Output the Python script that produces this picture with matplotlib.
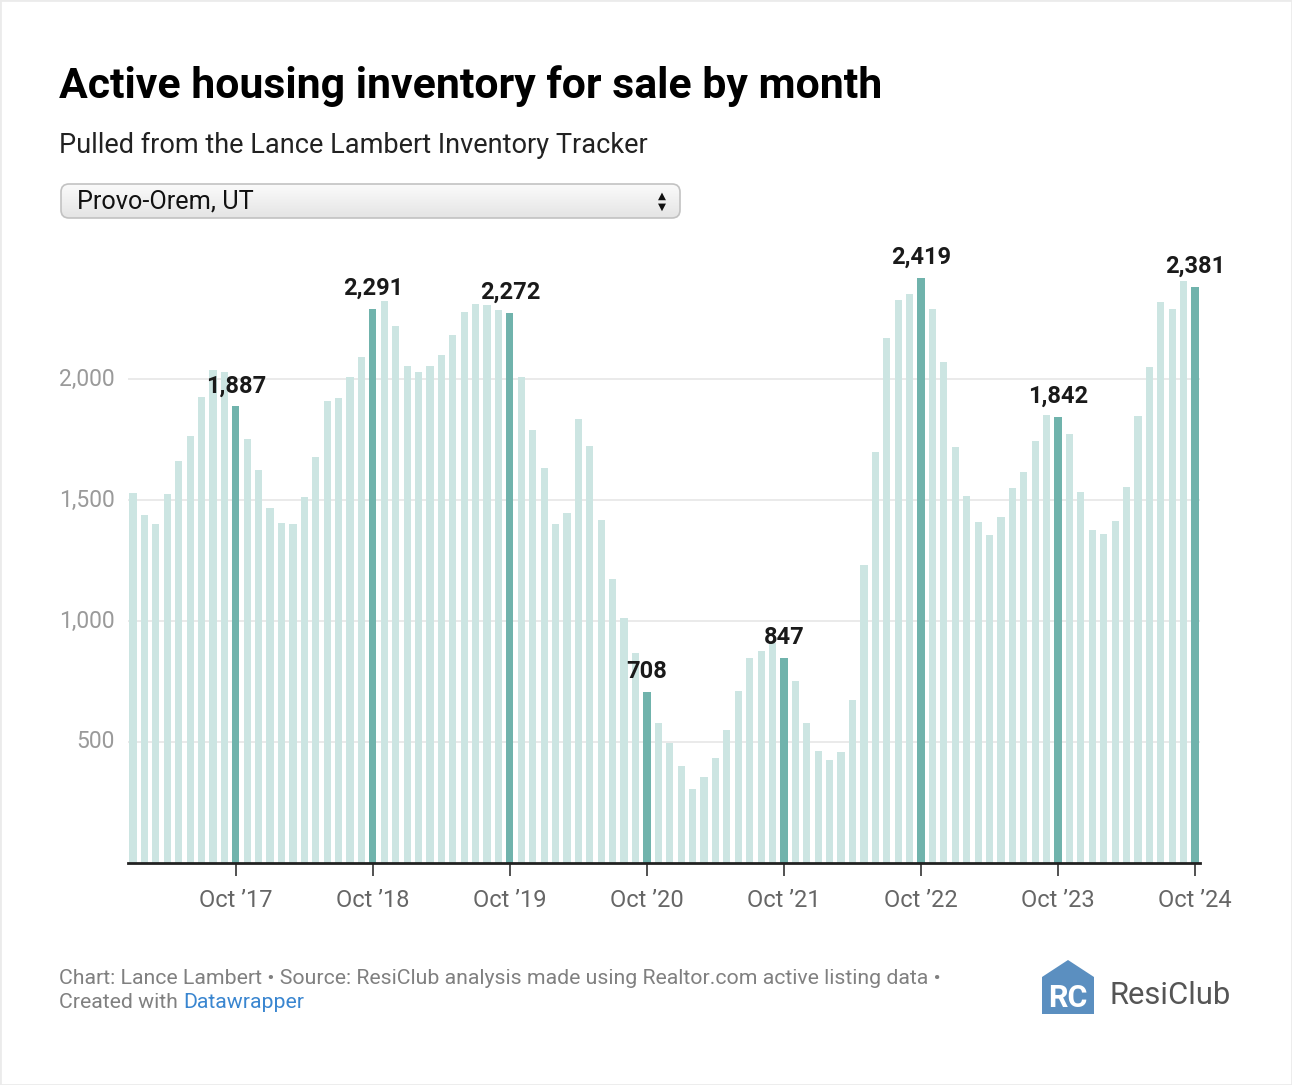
import matplotlib
matplotlib.use("Agg")
import matplotlib.pyplot as plt
from matplotlib.patches import FancyBboxPatch, Polygon, Rectangle
import numpy as np

plt.rcParams['font.family'] = ['Roboto', 'DejaVu Sans']

# ---- data (monthly active listings, Jan 2017 - Oct 2024) ----
start_year = 2017
inventory = [
    # 2017
    1528, 1438, 1402, 1523, 1660, 1766, 1924, 2037, 2028, 1887, 1752, 1624,
    # 2018
    1467, 1405, 1401, 1512, 1678, 1910, 1922, 2007, 2090, 2291, 2321, 2218,
    # 2019
    2055, 2028, 2052, 2100, 2181, 2278, 2311, 2306, 2285, 2272, 2010, 1791,
    # 2020
    1634, 1400, 1448, 1833, 1724, 1419, 1174, 1014, 868, 708, 578, 497,
    # 2021
    401, 306, 354, 433, 548, 709, 848, 876, 910, 847, 751, 577,
    # 2022
    464, 424, 459, 675, 1231, 1699, 2169, 2326, 2351, 2419, 2289, 2069,
    # 2023
    1720, 1517, 1408, 1355, 1430, 1551, 1614, 1745, 1850, 1842, 1774, 1533,
    # 2024
    1376, 1358, 1413, 1555, 1847, 2048, 2317, 2291, 2406, 2381,
]
tick_labels = ["Oct \u201917", "Oct \u201918", "Oct \u201919", "Oct \u201920",
               "Oct \u201921", "Oct \u201922", "Oct \u201923", "Oct \u201924"]
y_ticks = [500, 1000, 1500, 2000]
y_tick_labels = ["500", "1,000", "1,500", "2,000"]
title = "Active housing inventory for sale by month"
subtitle = "Pulled from the Lance Lambert Inventory Tracker"
dropdown_text = "Provo-Orem, UT"

LIGHT = "#cce5e2"
DARK = "#70b3ac"

W, H = 1292, 1085
fig = plt.figure(figsize=(W / 100, H / 100), dpi=100)
fig.patch.set_facecolor("white")


def fx(x):
    return x / W


def fy(y):
    return 1 - y / H


# axes placement (pixels)
ax_left, ax_right, ax_bottom, ax_top = 128, 1200, 863, 233.8
ax = fig.add_axes([fx(ax_left), fy(ax_bottom), fx(ax_right - ax_left), (ax_bottom - ax_top) / H])

n = len(inventory)
x = np.arange(n)
months = np.array([(i % 12) + 1 for i in range(n)])
is_oct = months == 10
colors = [DARK if o else LIGHT for o in is_oct]
ax.bar(x, inventory, width=0.63, color=colors, zorder=2)

ax.set_xlim(-0.44, 93.43)
ax.set_ylim(0, 2600)

for s in ["top", "right", "left"]:
    ax.spines[s].set_visible(False)
ax.spines["bottom"].set_color("#222222")
ax.spines["bottom"].set_linewidth(2)
ax.spines["bottom"].set_zorder(3)

# grid lines
for v in y_ticks:
    ax.axhline(v, color="#e6e6e6", lw=1.2, zorder=1)
ax.set_yticks([])
for v, lab in zip(y_ticks, y_tick_labels):
    ax.annotate(lab, xy=(0, v), xycoords=("axes fraction", "data"),
                xytext=(-13, 0), textcoords="offset pixels",
                ha="right", va="center", fontsize=16.5, color="#9a9a9a")

oct_idx = x[is_oct]
ax.set_xticks(oct_idx)
ax.set_xticklabels(tick_labels, fontsize=17, color="#666666")
ax.tick_params(axis="x", length=9, width=1.2, color="#333333", pad=10)

# value labels on October bars
for i in oct_idx:
    v = inventory[i]
    ax.annotate(f"{v:,}", xy=(i, v), xytext=(0, 9), textcoords="offset pixels",
                ha="center", va="bottom", fontsize=17, fontweight="bold",
                color="#1a1a1a", zorder=4)

# title & subtitle
fig.text(fx(59), fy(86), title, fontsize=30.8, fontweight="bold", color="#000000",
         ha="left", va="center")
fig.text(fx(59), fy(145), subtitle, fontsize=19.5, color="#222222",
         ha="left", va="center")

# dropdown
dd_l, dd_t, dd_r, dd_b = 60, 183, 681, 219
dax = fig.add_axes([fx(dd_l), fy(dd_b), fx(dd_r - dd_l), (dd_b - dd_t) / H])
dax.set_xlim(0, dd_r - dd_l)
dax.set_ylim(0, dd_b - dd_t)
dax.axis("off")
grad = np.linspace(0, 1, 50).reshape(-1, 1)
img = dax.imshow(grad, extent=(0, dd_r - dd_l, 0, dd_b - dd_t), aspect="auto",
                 cmap=matplotlib.colors.LinearSegmentedColormap.from_list(
                     "g", ["#e4e4e4", "#fbfbfb"]), origin="lower")
box = FancyBboxPatch((1, 1), dd_r - dd_l - 2, dd_b - dd_t - 2,
                     boxstyle="round,pad=0,rounding_size=8",
                     fc="none", ec="#c2c2c2", lw=1.2)
dax.add_patch(box)
img.set_clip_path(box)
fig.text(fx(77), fy(201), dropdown_text, fontsize=18.2, color="#111111",
         ha="left", va="center")
fig.text(fx(662), fy(196), "\u25b2", fontsize=7.5, color="#111111", ha="center",
         va="center", family="DejaVu Sans")
fig.text(fx(662), fy(207), "\u25bc", fontsize=7.5, color="#111111", ha="center",
         va="center", family="DejaVu Sans")

# footer
fig.text(fx(59), fy(978), "Chart: Lance Lambert \u2022 Source: ResiClub analysis made using Realtor.com active listing data \u2022",
         fontsize=15.3, color="#808080", ha="left", va="center")
t1 = fig.text(fx(59), fy(1003), "Created with ", fontsize=15.3, color="#808080",
              ha="left", va="center")
fig.canvas.draw()
bb = t1.get_window_extent()
fig.text(bb.x1 / W, fy(1003), "Datawrapper", fontsize=15.3, color="#3a86d0",
         ha="left", va="center")

# logo
logo_blue = "#5b8fc0"
house = Polygon([(fx(1042), fy(1014)), (fx(1042), fy(977)), (fx(1068), fy(960)),
                 (fx(1094), fy(977)), (fx(1094), fy(1014))],
                closed=True, transform=fig.transFigure, fc=logo_blue, ec="none")
fig.patches.append(house)
fig.text(fx(1068), fy(998), "RC", fontsize=22, fontweight="bold", color="white",
         ha="center", va="center")
fig.text(fx(1110), fy(996), "ResiClub", fontsize=22.3, color="#555555",
         ha="left", va="center")

# light frame
fig.patches.append(Rectangle((0, 0), 1, 1, transform=fig.transFigure,
                             fc="none", ec="#ebebeb", lw=2))

fig.savefig("out.png", dpi=100)
